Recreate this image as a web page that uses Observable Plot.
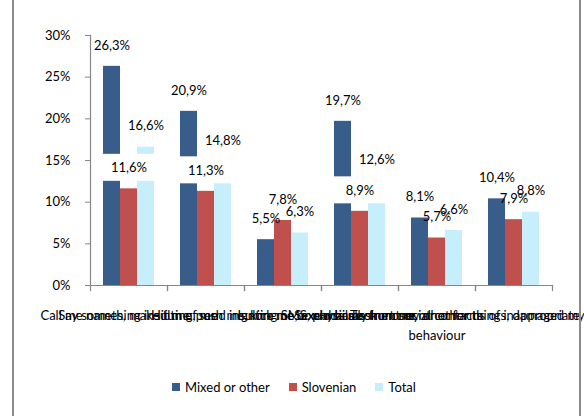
<!DOCTYPE html>
<html>
<head>
<meta charset="utf-8">
<script src="https://cdn.jsdelivr.net/npm/d3@7"></script>
<script src="https://cdn.jsdelivr.net/npm/@observablehq/plot@0.6"></script>
<style>
  html, body { margin: 0; padding: 0; background: #fff; }
  body { position: relative; width: 584px; height: 416px; overflow: hidden; font-family: Lato, "DejaVu Sans", sans-serif; }
  .vline { position: absolute; top: 0; width: 2px; height: 416px; background: #8c8c8c; }
  #legend { position: absolute; top: 379px; left: 172px; display: flex; align-items: center; font-size: 13px; line-height: 16px; color: #000; }
  #legend .item { display: flex; align-items: center; margin-right: 19px; }
  #legend .sw { width: 8px; height: 8px; margin-right: 5px; }
</style>
</head>
<body>
<div id="chart"></div>
<div class="vline" style="left:12px"></div>
<div class="vline" style="left:579px"></div>
<div id="legend"></div>
<script>
const categories = [
  "Call me names, make fun of me",
  "Say something insulting, send insulting SMS, e-mails",
  "Hit me, push me, kick me or physically hurt me",
  "Ignore me, exclude me from social contacts",
  "Sexual harassment or other forms of inappropriate\nbehaviour",
  "Took money or other things, damaged my things, property"
];
const series = ["Mixed or other", "Slovenian", "Total"];
const mixed = [26.3, 20.9, 5.5, 19.7, 8.1, 10.4];
const slovenian = [11.6, 11.3, 7.8, 8.9, 5.7, 7.9];
const total = [16.6, 14.8, 6.3, 12.6, 6.6, 8.8];
const yTicks = [0, 5, 10, 15, 20, 25, 30];
const colors = ["#385D8A", "#C0504D", "#C6EEFB"];

const seriesValues = [mixed, slovenian, total];
const rows = [];
categories.forEach((c, i) => {
  series.forEach((s, j) => {
    const v = seriesValues[j][i];
    const others = seriesValues.filter((_, k) => k !== j).map(a => a[i]);
    rows.push({category: c, series: s, value: v,
      boxed: s === "Slovenian" && Math.max(...others) - v > 3.5});
  });
});
const fmt = d => d.value.toFixed(1).replace(".", ",") + "%";

const W = 584, H = 416, mt = 35, mb = 131, ml = 88, mr = 31;
const plotH = H - mt - mb;
const axisColor = "#868686";

const chart = Plot.plot({
  width: W, height: H,
  marginTop: mt, marginBottom: mb, marginLeft: ml, marginRight: mr,
  style: {fontFamily: "Lato, 'DejaVu Sans', sans-serif", fontSize: "13px", color: "#000", background: "transparent", overflow: "visible"},
  fx: {domain: categories, padding: 0, label: null},
  x: {domain: series, paddingInner: 0, paddingOuter: 0.75, axis: null},
  y: {domain: [0, 30], axis: null},
  color: {domain: series, range: colors},
  marks: [
    Plot.barY(rows, {fx: "category", x: "series", y: "value", fill: "series"}),
    Plot.text(rows.filter(d => !d.boxed), {fx: "category", x: "series", y: "value", text: fmt, dy: -21, fill: "#000", fontSize: 13}),
    // white label boxes (label background)
    Plot.barY(rows.filter(d => d.boxed), {fx: "category", x: "series", y1: "value", y2: "value", fill: "white",
      insetTop: -34.5, insetBottom: 7.5, insetLeft: -17.5, insetRight: -17.5}),
    Plot.text(rows.filter(d => d.boxed), {fx: "category", x: "series", y: "value", text: fmt, dy: -21, fill: "#000", fontSize: 13}),
    Plot.frame({anchor: "left", facetAnchor: "left", stroke: axisColor, strokeWidth: 1.2}),
    Plot.frame({anchor: "bottom", stroke: axisColor, strokeWidth: 1.2}),
    Plot.frame({anchor: "left", insetTop: plotH, insetBottom: -5, stroke: axisColor, strokeWidth: 1.2}),
    Plot.frame({anchor: "right", insetTop: plotH, insetBottom: -5, stroke: axisColor, strokeWidth: 1.2}),
    Plot.axisY({ticks: yTicks, tickFormat: d => d + "%", tickSize: 5, tickPadding: 15, stroke: axisColor, color: "#000", fill: "#000", label: null, fontSize: 13}),
    Plot.axisFx({anchor: "bottom", tickSize: 0, tickPadding: 21, label: null, fill: "#000", fontSize: 13, lineHeight: 1.5})
  ]
});
document.getElementById("chart").appendChild(chart);

const legend = document.getElementById("legend");
series.forEach((s, j) => {
  const item = document.createElement("div");
  item.className = "item";
  const sw = document.createElement("div");
  sw.className = "sw";
  sw.style.background = colors[j];
  const t = document.createElement("span");
  t.textContent = s;
  item.appendChild(sw);
  item.appendChild(t);
  legend.appendChild(item);
});
</script>
</body>
</html>
